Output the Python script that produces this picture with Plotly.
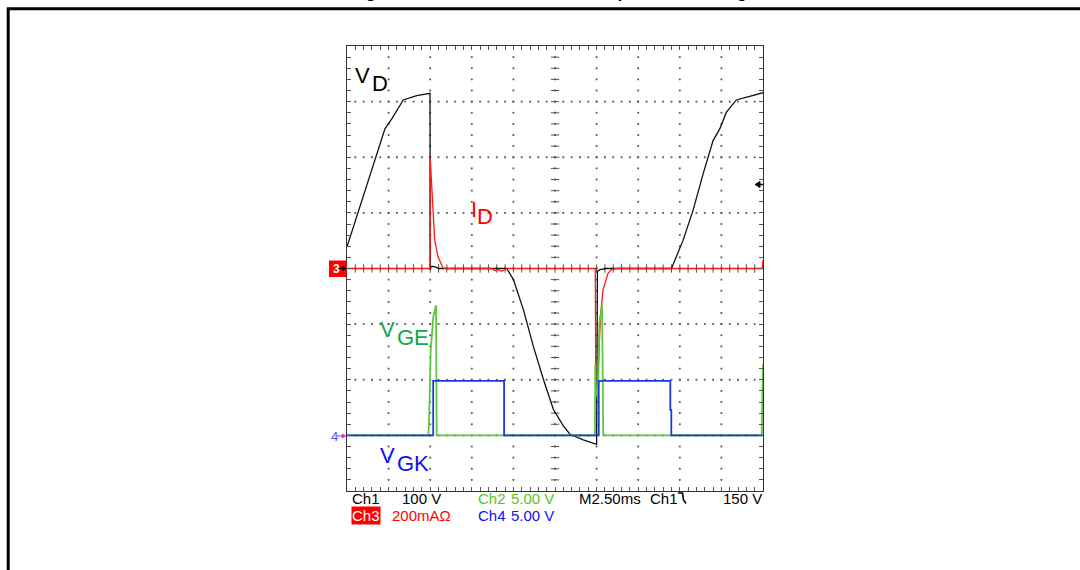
import plotly.graph_objects as go

# ---------------- channel data (time in ms, 2.5 ms/div) ----------------
# Ch1: V_D (volts, 100 V/div, ground at centre line)
t_vd = [0, 0.78, 1.58, 2.28, 2.69, 3.38, 4.19, 4.99, 5.0, 5.05, 5.3, 5.5,
        9.6, 10.0, 10.6, 11.2, 11.8, 12.4, 13.0, 13.4, 14.2, 15.0, 15.05, 15.2, 15.6,
        19.5, 20.2, 20.8, 21.4, 22.0, 22.4, 22.8, 23.4, 24.2, 24.9, 25.0]
v_d = [39, 111, 188, 251, 269, 303, 311, 315, -2, 4, 3, 0,
       0, -20, -74, -140, -199, -253, -283, -298, -308, -316, -5, -2, 0,
       0, 51, 105, 170, 230, 251, 281, 303, 309, 315, 316]

# Ch3: I_D (mA, 200 mA/div, ground at centre line)
t_id = [0, 4.99, 5.0, 5.07, 5.17, 5.27, 5.47, 5.77, 6.0,
        8.7, 8.9, 9.1, 9.3, 9.5, 9.6,
        14.92, 14.95, 15.08, 15.14, 15.23, 15.38, 15.68, 15.89, 16.2,
        24.95, 25.0]
i_d = [0, 0, 396, 306, 198, 102, 42, 2, 0,
       0, -8, -4, -10, -3, 0,
       0, -390, -390, -294, -174, -78, -18, -4, 0,
       0, 30]

# Ch2: V_GE (volts, 5 V/div, ground one division above bottom)
t_vge = [0, 4.89, 4.95, 5.03, 5.19, 5.35, 5.39,
         14.90, 14.92, 14.97, 15.10, 15.16, 15.33, 15.40,
         24.92, 24.97, 25.0]
v_ge = [0, 0, 2.35, 7.7, 10.7, 11.7, 0,
        0, 6.4, 3.5, 4.5, 10.0, 11.7, 0,
        0, 6.4, 6.4]

# Ch4: V_GK (volts, 5 V/div, same ground as Ch2)
t_vgk = [0, 5.18, 5.18, 9.44, 9.44, 15.13, 15.13, 19.43, 19.43, 19.49, 19.49, 25.0]
v_gk = [0, 0, 4.9, 4.9, 0, 0, 4.9, 4.9, 2.3, 2.3, 0, 0]

# ---------------- page geometry ----------------
W, H = 1080, 570
ML, MR, MT, MB = 347, 317, 46, 79
PW = W - ML - MR
PH = H - MT - MB


def px(x):
    return (x - ML) / PW


def py(y):
    return 1 - (y - MT) / PH


fig = go.Figure()

# ---------------- graticule: dotted division lines and centre cross ----------------
gx, gy = [], []
for k in range(1, 10):
    xm = k * 2.5
    for j in range(-19, 20):
        gx.append(xm)
        gy.append(j * 20)
for k in range(-3, 4):
    ym = k * 100
    for j in range(1, 50):
        gx.append(j * 0.5)
        gy.append(ym)
fig.add_trace(go.Scatter(x=gx, y=gy, mode="markers", hoverinfo="skip",
                         marker=dict(size=1.8, color="#555555", symbol="square"),
                         showlegend=False))

cx_ticks_y = [j * 20 for j in range(-19, 20)]
fig.add_trace(go.Scatter(x=[12.5] * len(cx_ticks_y), y=cx_ticks_y, mode="markers",
                         hoverinfo="skip", showlegend=False,
                         marker=dict(symbol="line-ew", size=6,
                                     line=dict(width=1, color="#555555"))))
cy_ticks_x = [j * 0.5 for j in range(1, 50)]
fig.add_trace(go.Scatter(x=cy_ticks_x, y=[0] * len(cy_ticks_x), mode="markers",
                         hoverinfo="skip", showlegend=False,
                         marker=dict(symbol="line-ns", size=6,
                                     line=dict(width=1, color="#555555"))))

# ---------------- waveforms ----------------
fig.add_trace(go.Scatter(x=t_vd, y=v_d, mode="lines", yaxis="y", showlegend=False,
                         line=dict(color="#111111", width=1.3)))
fig.add_trace(go.Scatter(x=t_id, y=i_d, mode="lines", yaxis="y2", showlegend=False,
                         line=dict(color="#ff1a1a", width=1.3)))
fig.add_trace(go.Scatter(x=t_vge, y=v_ge, mode="lines", yaxis="y3", showlegend=False,
                         line=dict(color="#5cc83c", width=1.8)))
fig.add_trace(go.Scatter(x=t_vgk, y=v_gk, mode="lines", yaxis="y4", showlegend=False,
                         line=dict(color="#1a3ae0", width=1.8)))

axis_common = dict(showgrid=False, zeroline=False, showticklabels=False,
                   showline=True, linecolor="#333333", linewidth=1,
                   mirror="ticks", ticks="inside", ticklen=4, tickcolor="#555555")
hidden = dict(overlaying="y", visible=False, autorange=False)

fig.update_layout(
    width=W, height=H,
    margin=dict(l=ML, r=MR, t=MT, b=MB),
    paper_bgcolor="white", plot_bgcolor="white",
    showlegend=False,
    xaxis=dict(range=[0, 25], dtick=2.5, tick0=0,
               minor=dict(dtick=0.5, ticks="inside", ticklen=4, tickcolor="#555555"),
               **axis_common),
    yaxis=dict(range=[-400, 400], dtick=100, tick0=0,
               minor=dict(dtick=20, ticks="inside", ticklen=4, tickcolor="#555555"),
               **axis_common),
    yaxis2=dict(range=[-800, 800], **hidden),
    yaxis3=dict(range=[-5, 35], **hidden),
    yaxis4=dict(range=[-5, 35], **hidden),
)

shapes = []
# outer frame of the figure panel
shapes.append(dict(type="rect", xref="paper", yref="paper",
                   x0=px(8.2), x1=px(1100), y0=py(8.7), y1=py(600),
                   line=dict(color="black", width=3), fillcolor="rgba(0,0,0,0)"))
# Ch3 ground marker box
shapes.append(dict(type="rect", xref="paper", yref="paper",
                   x0=px(329), x1=px(346.5), y0=py(277), y1=py(260.5),
                   line=dict(width=0), fillcolor="#ff0000"))
# Ch3 ground marker arrow
shapes.append(dict(type="line", xref="paper", yref="paper",
                   x0=px(338), x1=px(345), y0=py(268.5), y1=py(268.5),
                   line=dict(color="black", width=1.2)))
shapes.append(dict(type="path", xref="paper", yref="paper",
                   path=f"M {px(346)},{py(268.5)} L {px(342.5)},{py(266.3)} "
                        f"L {px(342.5)},{py(270.7)} Z",
                   fillcolor="black", line=dict(color="black", width=0.5)))
# Ch4 ground marker arrow
shapes.append(dict(type="line", xref="paper", yref="paper",
                   x0=px(337), x1=px(344), y0=py(436), y1=py(436),
                   line=dict(color="#cc33cc", width=1.2)))
shapes.append(dict(type="path", xref="paper", yref="paper",
                   path=f"M {px(346)},{py(436)} L {px(342)},{py(433.8)} "
                        f"L {px(342)},{py(438.2)} Z",
                   fillcolor="#cc33cc", line=dict(color="#cc33cc", width=0.5)))
# trigger level arrow (right edge)
shapes.append(dict(type="path", xref="paper", yref="paper",
                   path=f"M {px(755)},{py(184.5)} L {px(760)},{py(181.5)} "
                        f"L {px(760)},{py(187.5)} Z",
                   fillcolor="black", line=dict(color="black", width=1)))
shapes.append(dict(type="line", xref="paper", yref="paper",
                   x0=px(759), x1=px(763), y0=py(184.5), y1=py(184.5),
                   line=dict(color="black", width=1.5)))
# falling-edge trigger symbol
shapes.append(dict(type="path", xref="paper", yref="paper",
                   path=f"M {px(678)},{py(493)} L {px(682.5)},{py(493)} "
                        f"L {px(683.5)},{py(500)} L {px(686)},{py(503.5)}",
                   fillcolor="rgba(0,0,0,0)", line=dict(color="black", width=1.6)))
fig.update_layout(shapes=shapes)

anns = []


def label(text, x, y, size, color, family="Liberation Sans, Arial, sans-serif",
          xanchor="left", bg=None, bold=False):
    d = dict(text=f"<b>{text}</b>" if bold else text, xref="paper", yref="paper",
             x=px(x), y=py(y), xanchor=xanchor, yanchor="middle", showarrow=False,
             font=dict(size=size, color=color, family=family), borderpad=0)
    if bg:
        d["bgcolor"] = bg
    anns.append(d)


# panel caption (sits mostly above the page edge)
label("Figure 11. Circuit waveforms with pulse train firing", 549, -7.5, 16.5, "black",
      xanchor="center", bold=True)

# trace names
label("V", 354, 76, 22, "#000000")
label("D", 371, 83, 22, "#000000")
label("I", 470, 210, 22, "#ff0000")
label("D", 475.5, 217, 22, "#ff0000")
label("V", 379, 329, 22, "#10a84a")
label("GE", 395.5, 337, 22, "#10a84a")
label("V", 379, 455, 22, "#1010f0")
label("GK", 396, 463, 22, "#1010f0")

# channel ground markers
label("3", 331.5, 269, 12, "white", bold=True)
label("4", 330, 436, 13, "#5a4cff")

# readout lines
sf = "Liberation Sans, Arial, sans-serif"
fs = 15
row1, row2 = 498.5, 515.5
label("Ch1", 350.5, row1, fs, "#000000", sf)
label("100 V", 400.5, row1, fs, "#000000", sf)
label("Ch2", 476.5, row1, fs, "#55c81e", sf)
label("5.00 V", 510, row1, fs, "#55c81e", sf)
label("M2.50ms", 578, row1, fs, "#000000", sf)
label("Ch1", 649, row1, fs, "#000000", sf)
label("150 V", 722, row1, fs, "#000000", sf)
label("Ch3", 350.5, row2, fs, "white", sf, bg="#ff0000")
label("200mAΩ", 390.5, row2, fs, "#ff0000", sf)
label("Ch4", 476.5, row2, fs, "#1010f0", sf)
label("5.00 V", 510, row2, fs, "#1010f0", sf)

fig.update_layout(annotations=anns)

fig.write_html("out.html")
